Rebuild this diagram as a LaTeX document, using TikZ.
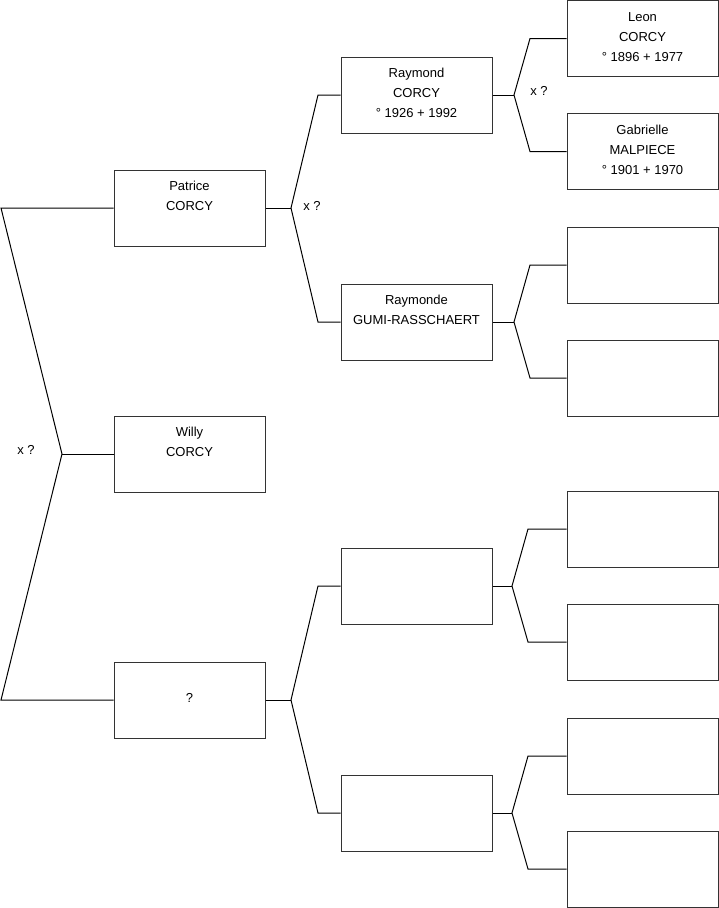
\documentclass[tikz,border=0pt]{standalone}
\usepackage{fontspec}
\setmainfont{Liberation Sans}
\newcommand{\ls}{\rule[-7.5pt]{0pt}{20pt}}
\begin{document}
\begin{tikzpicture}[x=1pt,y=-1pt,
  box/.style={draw=black!80, line width=1pt, minimum width=151pt, minimum height=76pt,
    inner sep=0pt, align=center, font=\fontsize{13}{20}\selectfont},
  link/.style={draw=black, line width=1pt},
  xlabel/.style={font=\fontsize{13}{20}\selectfont, inner sep=0pt}]
\useasboundingbox (0,0) rectangle (719,908);
% generation 1
\node[box] (p) at (189.5,208) {\ls Patrice\\\ls CORCY\\\ls};
\node[box] (w) at (189.5,454) {\ls Willy\\\ls CORCY\\\ls};
\node[box] (q) at (189.5,700) {\ls ?};
% generation 2
\node[box] (r)  at (416.5,95)  {\ls Raymond\\\ls CORCY\\\ls ° 1926 + 1992};
\node[box] (rm) at (416.5,322) {\ls Raymonde\\\ls GUMI-RASSCHAERT\\\ls};
\node[box] (e3) at (416.5,586) {};
\node[box] (e4) at (416.5,813) {};
% generation 3
\node[box] (l)  at (642.5,38.5)  {\ls Leon\\\ls CORCY\\\ls ° 1896 + 1977};
\node[box] (g)  at (642.5,151.5) {\ls Gabrielle\\\ls MALPIECE\\\ls ° 1901 + 1970};
\node[box] (f3) at (642.5,265)   {};
\node[box] (f4) at (642.5,378)   {};
\node[box] (f5) at (642.5,529)   {};
\node[box] (f6) at (642.5,642)   {};
\node[box] (f7) at (642.5,756)   {};
\node[box] (f8) at (642.5,869)   {};
% left bracket
\coordinate (a1) at (1,208);
\coordinate (k0) at (62,454);
\coordinate (a2) at (1,700);
\draw[link] (p.west) -- (a1) -- (k0) -- (a2) -- (q.west);
\draw[link] (k0) -- (w.west);
\node[xlabel] (x0) at (26,450) {x ?};
% Patrice bracket
\coordinate (k1) at (291,208);
\coordinate (b1) at (318,95);
\coordinate (b2) at (318,322);
\draw[link] (p.east) -- (k1);
\draw[link] (r.west) -- (b1) -- (k1) -- (b2) -- (rm.west);
\node[xlabel] (x1) at (312,206) {x ?};
% ? bracket
\coordinate (k2) at (291,700);
\coordinate (b3) at (318,586);
\coordinate (b4) at (318,813);
\draw[link] (q.east) -- (k2);
\draw[link] (e3.west) -- (b3) -- (k2) -- (b4) -- (e4.west);
% Raymond bracket
\coordinate (k3) at (514,95);
\coordinate (c1) at (530,38.5);
\coordinate (c2) at (530,151.5);
\draw[link] (r.east) -- (k3);
\draw[link] (l.west) -- (c1) -- (k3) -- (c2) -- (g.west);
\node[xlabel] (x3) at (539,91) {x ?};
% Raymonde bracket
\coordinate (k4) at (514,322);
\coordinate (c3) at (530,265);
\coordinate (c4) at (530,378);
\draw[link] (rm.east) -- (k4);
\draw[link] (f3.west) -- (c3) -- (k4) -- (c4) -- (f4.west);
% e3 bracket
\coordinate (k5) at (512,586);
\coordinate (c5) at (528,529);
\coordinate (c6) at (528,642);
\draw[link] (e3.east) -- (k5);
\draw[link] (f5.west) -- (c5) -- (k5) -- (c6) -- (f6.west);
% e4 bracket
\coordinate (k6) at (512,813);
\coordinate (c7) at (528,756);
\coordinate (c8) at (528,869);
\draw[link] (e4.east) -- (k6);
\draw[link] (f7.west) -- (c7) -- (k6) -- (c8) -- (f8.west);
\end{tikzpicture}
\end{document}
